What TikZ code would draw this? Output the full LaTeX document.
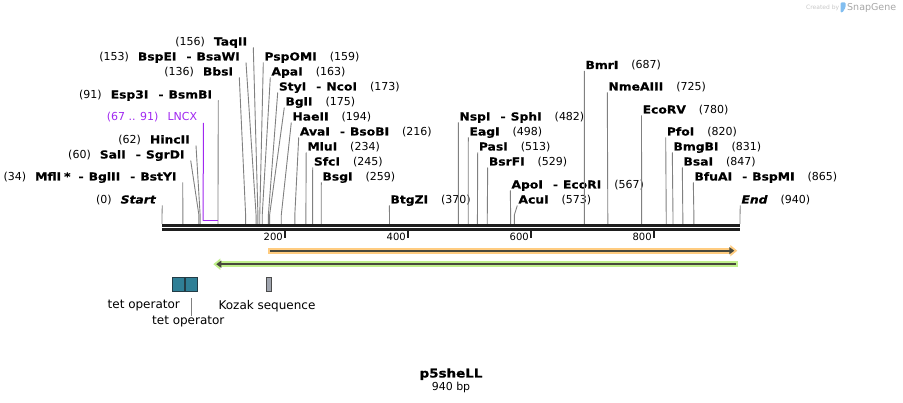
\documentclass[tikz,border=0pt]{standalone}
\usepackage{fontspec}
\setmainfont{DejaVu Sans}[
  ItalicFont={DejaVu Sans Oblique},
  BoldFont={DejaVu Sans Bold},
  BoldItalicFont={DejaVu Sans Bold Oblique},
  BoldFeatures={FakeStretch=1.12,FakeBold=0.6},
  BoldItalicFeatures={FakeStretch=1.12,FakeBold=0.6}]
\usetikzlibrary{arrows.meta}

\definecolor{cutgray}{RGB}{128,128,128}
\definecolor{darkline}{RGB}{30,30,30}
\definecolor{featdark}{RGB}{72,72,60}
\definecolor{orglow}{RGB}{255,204,128}
\definecolor{grglow}{RGB}{192,240,140}
\definecolor{lncxpurple}{RGB}{160,40,240}
\definecolor{tetfill}{RGB}{47,127,150}
\definecolor{tetedge}{RGB}{35,60,70}
\definecolor{kozfill}{RGB}{160,165,175}
\definecolor{logoblue}{RGB}{130,190,240}

\newcommand{\alt}{\hspace{10pt}-\hspace{5pt}}

\tikzset{
  site/.style={inner xsep=1pt, inner ysep=0pt, anchor=base west,
    font=\fontsize{11}{13}\selectfont},
  sitel/.style={inner xsep=6pt, inner ysep=0pt, anchor=base east,
    font=\fontsize{11}{13}\selectfont},
  cutline/.style={draw=cutgray, line width=0.9pt},
  backbone/.style={draw=darkline},
  tick/.style={draw=darkline, line width=1.7pt},
  ticklab/.style={inner sep=0pt, anchor=base east, font=\fontsize{10}{12}\selectfont},
  featline/.style={draw=featdark, line width=2pt},
  featbox/.style={draw=tetedge, line width=0.9pt, inner sep=0pt,
    minimum width=11.8pt, minimum height=14.8pt},
  featlab/.style={inner sep=0pt, font=\fontsize{12}{14}\selectfont},
}

\begin{document}
\begin{tikzpicture}[x=1pt,y=-1pt]
\useasboundingbox (0,0) rectangle (903,403);

% sequence line
\draw[backbone, line width=2.7pt] (162,225.2) -- (740.3,225.2);
\draw[backbone, line width=2.3pt] (162,229.6) -- (740.3,229.6);
\foreach \ps in {200,400,600,800} {
  \draw[tick] ({162+0.6149*\ps},230.8) -- ++(0,7);
  \node[ticklab] (tick\ps) at ({162+0.6149*\ps-2},240.5) {\ps};
}

% sites, labels on the left
\foreach \nm/\ps/\xa/\ya/\lab in {
  taqii/156/253.3/45.5/TaqII,
  bspei/153/246/60.5/BspEI\alt BsaWI,
  bbsi/136/239.3/75.5/BbsI,
  esp3i/91/218.3/98.5/Esp3I\alt BsmBI,
  hincii/62/196/143.5/HincII,
  sali/60/190.7/158.5/SalI\alt SgrDI,
  mfli/34/182.7/180.5/MflI\hspace{3pt}*\hspace{8pt}-\hspace{5pt}BglII\alt BstYI,
  start/0/162.3/203.5/\textit{Start}} {
  \node[sitel] (\nm) at (\xa,\ya) {(\ps)\hspace{9pt}\textbf{\lab}};
  \coordinate (\nm-cut) at ({162+0.6149*\ps},223.8);
  \draw[cutline] ([yshift=-2pt]\nm.base east) -- (\nm-cut |- 0,215) -- (\nm-cut);
}

% sites, labels on the right
\foreach \nm/\ps/\xa/\ya/\lab in {
  pspomi/159/263.3/60.5/PspOMI,
  apai/163/270.3/75.5/ApaI,
  styi/173/277.7/90.5/StyI\alt NcoI,
  bgli/175/284.3/105.5/BglI,
  haeii/194/291.3/120.5/HaeII,
  avai/216/298.7/135.5/AvaI\alt BsoBI,
  mlui/234/306.2/150.5/MluI,
  sfci/245/312.7/165.5/SfcI,
  bsgi/259/321.3/180.5/BsgI,
  btgzi/370/389.3/203.5/BtgZI,
  nspi/482/458.3/120.5/NspI\alt SphI,
  eagi/498/468.3/135.5/EagI,
  pasi/513/477.7/150.5/PasI,
  bsrfi/529/487.7/165.5/BsrFI,
  apoi/567/510.3/188.5/ApoI\alt EcoRI,
  acui/573/517.3/203.5/AcuI,
  bmri/687/584.3/69/BmrI,
  nmeaiii/725/607.3/90.5/NmeAIII,
  ecorv/780/641.5/113.5/EcoRV,
  pfoi/820/665.7/135.5/PfoI,
  bmgbi/831/672.3/150.5/BmgBI,
  bsai/847/682.3/165.5/BsaI,
  bfuai/865/693.3/180.5/BfuAI\alt BspMI,
  finish/940/740.3/203.5/\textit{End}} {
  \node[site] (\nm) at (\xa,\ya) {\textbf{\lab}\hspace{13pt}(\ps)};
  \coordinate (\nm-cut) at ({162+0.6149*\ps},223.8);
  \draw[cutline] ([yshift=-2pt]\nm.base west) -- (\nm-cut |- 0,215) -- (\nm-cut);
}

% LNCX
\node[sitel, text=lncxpurple] (lncx) at (203.3,121) {(67 .. 91)\hspace{9pt}LNCX};
\coordinate (lncx-a) at (203.2,220.7);
\coordinate (lncx-b) at (218,220.7);
\draw[lncxpurple, line width=1pt] ([yshift=-2pt]lncx.base east) -- (lncx-a);
\draw[lncxpurple, line width=1.6pt] ([xshift=-0.5pt]lncx-a) -- (lncx-b);

% features
\draw[orglow, line width=6pt, -{Triangle[length=7pt,width=11pt]}] (268,250.7) -- (737.3,250.7);
\draw[featline, -{Triangle[length=5pt,width=7pt]}] (270,250.7) -- (734.3,250.7);
\draw[grglow, line width=6pt, -{Triangle[length=7pt,width=11pt]}] (737.7,264.2) -- (213.3,264.2);
\draw[featline, -{Triangle[length=5pt,width=7pt]}] (735.7,264.2) -- (216.3,264.2);

\node[featbox, fill=tetfill] (tet1) at (178.65,284.5) {};
\node[featbox, fill=tetfill] (tet2) at (191.15,284.5) {};
\node[featbox, fill=kozfill, draw=darkline!80, minimum width=5.2pt] (kozak) at (268.7,284.5) {};
\node[featlab] (tet1lab) at (143.8,306) {tet operator};
\node[featlab] (tet2lab) at (188.3,321.7) {tet operator};
\node[featlab] (kozaklab) at (267,306) {Kozak sequence};
\draw[cutline] ([yshift=-6pt]tet2.south) -- (tet2.south |- tet2lab.north);

% name
\node[inner sep=0pt, anchor=base, font=\bfseries\fontsize{12}{14}\selectfont] (title) at (451,377.5) {p5sheLL};
\node[inner sep=0pt, anchor=base, font=\fontsize{11}{13}\selectfont] (size) at (451,390.5) {940 bp};

% corner mark
\node[inner sep=0pt, anchor=base west, text=black!22, font=\fontsize{6}{7}\selectfont] (created) at (806,10) {Created by};
\fill[logoblue, rounded corners=1pt] (840.5,2.5) -- (845.5,2.5) -- (845.5,7.5) -- (842.5,12.5) -- (840.5,12.5) -- cycle;
\node[inner sep=0pt, anchor=base west, text=black!35, font=\fontsize{9.5}{11}\selectfont] (snapgene) at (847,11) {SnapGene};
\end{tikzpicture}
\end{document}
